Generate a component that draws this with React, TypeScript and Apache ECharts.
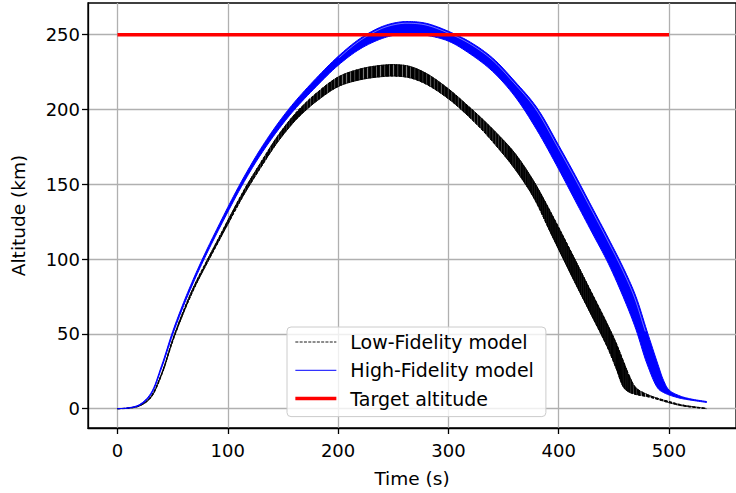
import React, { useEffect, useRef } from 'react';
import * as echarts from 'echarts';

// Low-fidelity trajectory ensemble: time (s) and band edges (km)
const lowTime = [0, 10, 20, 30, 40, 50, 60, 70, 80, 90, 100, 115, 130, 145, 160, 170, 180, 200, 220, 240, 252, 265, 280, 300, 316, 330, 345, 360, 377, 393, 410, 427, 444, 452, 459, 464, 470, 482, 500, 512, 534];
const lowUpper = [0, 0.5, 2.2, 7.9, 23.5, 46.1, 65.8, 82.9, 97.5, 111.6, 125.8, 146.5, 164.7, 182, 196.3, 204, 210.7, 221.7, 227.1, 229.6, 230, 228.8, 224.1, 213.8, 203.6, 194.2, 183.2, 171, 152.5, 131, 106.7, 81.7, 56.7, 44, 31, 22, 14, 9, 4.8, 2.5, 0.2];
const lowLower = [0, 0.3, 1.8, 7.1, 22.5, 44.9, 64.2, 81.1, 95.5, 109.4, 123.2, 143.5, 161.3, 178, 191.7, 199, 205.3, 215.3, 219.9, 222, 222.3, 221.2, 216.9, 207.2, 197, 186.8, 174.3, 160.5, 141.5, 117, 91.3, 66.3, 41.3, 27, 14, 11, 9.5, 7.8, 4, 1.9, 0];

// High-fidelity trajectory ensemble
const hiTime = [0, 10, 20, 30, 40, 50, 60, 70, 80, 90, 100, 110, 120, 130, 145, 160, 180, 200, 220, 240, 255, 265, 280, 300, 320, 340, 360, 380, 400, 415, 430, 445, 460, 470, 480, 490, 495, 500, 510, 520, 534];
const hiUpper = [0, 0.6, 2.8, 10, 28.8, 51.5, 71.1, 88.7, 104.8, 119.9, 134.6, 148.7, 161.8, 174, 190.3, 204.5, 220.8, 235.5, 247.5, 255.5, 258.4, 258.8, 257.6, 252.3, 245, 234.5, 219, 201.5, 176, 156, 135, 114, 92, 75, 52, 29.5, 19, 12.5, 8.5, 6.5, 4.8];
const hiLower = [0, 0.4, 2.2, 9, 27.2, 49.5, 68.9, 86.3, 102.2, 117.1, 131.4, 145.3, 158.2, 170, 185.7, 199.5, 215.2, 229.5, 240.5, 247.5, 250.2, 250.6, 249.6, 245.7, 237, 225.5, 209, 186.5, 160, 139, 118, 97, 72, 53, 30, 13.5, 10.8, 9.2, 7, 5.7, 4.2];

// Target altitude
const targetTime = [0, 500];
const targetAlt = [250, 250];

// Axes
const xTicks = [0, 100, 200, 300, 400, 500];
const yTicks = [0, 50, 100, 150, 200, 250];
const xRange = [-26.7, 560.7];
const yRange = [-12.9, 271.2];

const LOW = 'Low-Fidelity model';
const HIGH = 'High-Fidelity model';
const TARGET = 'Target altitude';

const pairs = (t: number[], h: number[]) => t.map((v, i) => [v, h[i]]);

const SUB = 8;

// centripetal Catmull-Rom through pixel points (rendering only)
const smoothPts = (pts: number[][], n = SUB) => {
  const out: number[][] = [];
  const L = pts.length;
  const get = (i: number) => {
    if (i < 0) return [2 * pts[0][0] - pts[1][0], 2 * pts[0][1] - pts[1][1]];
    if (i >= L) return [2 * pts[L - 1][0] - pts[L - 2][0], 2 * pts[L - 1][1] - pts[L - 2][1]];
    return pts[i];
  };
  const d = (a: number[], b: number[]) => Math.max(Math.pow(Math.hypot(b[0] - a[0], b[1] - a[1]), 0.5), 1e-3);
  for (let i = 0; i < L - 1; i++) {
    const p0 = get(i - 1), p1 = get(i), p2 = get(i + 1), p3 = get(i + 2);
    const t0 = 0, t1 = t0 + d(p0, p1), t2 = t1 + d(p1, p2), t3 = t2 + d(p2, p3);
    for (let k = 0; k < n; k++) {
      const t = t1 + ((t2 - t1) * k) / n;
      const lerp = (a: number[], b: number[], ta: number, tb: number) => {
        const w = (t - ta) / (tb - ta);
        return [a[0] + (b[0] - a[0]) * w, a[1] + (b[1] - a[1]) * w];
      };
      const A1 = lerp(p0, p1, t0, t1), A2 = lerp(p1, p2, t1, t2), A3 = lerp(p2, p3, t2, t3);
      const B1 = lerp(A1, A2, t0, t2), B2 = lerp(A2, A3, t1, t3);
      out.push(lerp(B1, B2, t1, t2));
    }
  }
  out.push(pts[L - 1]);
  return out;
};

// offset a polyline along its normal (rendering only)
const offsetPts = (pts: number[][], dist: number) =>
  pts.map((p, i) => {
    const a = pts[Math.max(0, i - 1)];
    const b = pts[Math.min(pts.length - 1, i + 1)];
    const dx = b[0] - a[0];
    const dy = b[1] - a[1];
    const len = Math.hypot(dx, dy) || 1;
    return [p[0] - (dy / len) * dist, p[1] + (dx / len) * dist];
  });

export default function App() {
  const ref = useRef<HTMLDivElement>(null);

  useEffect(() => {
    if (!ref.current) return;
    const chart = echarts.init(ref.current, undefined, { renderer: 'svg' });
    const font = 'DejaVu Sans';

    const lowBand = (_params: any, api: any) => {
      const up = smoothPts(lowTime.map((t, i) => api.coord([t, lowUpper[i]])));
      const lo = smoothPts(lowTime.map((t, i) => api.coord([t, lowLower[i]])));
      const mid = up.map((p, i) => [(p[0] + lo[i][0]) / 2, (p[1] + lo[i][1]) / 2]);
      const cum = [0];
      for (let i = 1; i < mid.length; i++) {
        cum.push(cum[i - 1] + Math.hypot(mid[i][0] - mid[i - 1][0], mid[i][1] - mid[i - 1][1]));
      }
      const total = cum[cum.length - 1];
      const idxAt = (s: number) => {
        let i = 0;
        while (i < cum.length - 2 && cum[i + 1] < s) i++;
        return i;
      };
      const at = (edge: number[][], s: number) => {
        const i = idxAt(s);
        const len = cum[i + 1] - cum[i];
        const f = len > 0 ? (s - cum[i]) / len : 0;
        return [edge[i][0] + (edge[i + 1][0] - edge[i][0]) * f, edge[i][1] + (edge[i + 1][1] - edge[i][1]) * f];
      };
      const children: any[] = [];
      const dash = 2.9;
      let a = 0;
      while (a < total) {
        const b = Math.min(a + dash, total);
        const top = [at(up, a)];
        const bot = [at(lo, a)];
        for (let j = 0; j < cum.length; j++) {
          if (cum[j] > a && cum[j] < b) {
            top.push(up[j]);
            bot.push(lo[j]);
          }
        }
        top.push(at(up, b));
        bot.push(at(lo, b));
        children.push({
          type: 'polygon',
          shape: { points: top.concat(bot.slice().reverse()) },
          style: { fill: '#000', stroke: '#000', lineWidth: 1 },
        });
        const i = idxAt(b);
        const thick = Math.hypot(up[i][0] - lo[i][0], up[i][1] - lo[i][1]);
        const gap = thick > 6 ? 1.45 : 1.85;
        a = b + gap;
      }
      children.push({
        type: 'polyline',
        shape: { points: up },
        style: { fill: null, stroke: '#000', lineWidth: 0.8, lineDash: [3, 1.3] },
      });
      children.push({
        type: 'polyline',
        shape: { points: lo },
        style: { fill: null, stroke: '#000', lineWidth: 0.8, lineDash: [3, 1.3] },
      });
      return { type: 'group', children };
    };

    const hiBand = (_params: any, api: any) => {
      const up = smoothPts(hiTime.map((t, i) => api.coord([t, hiUpper[i]])));
      const lo = smoothPts(hiTime.map((t, i) => api.coord([t, hiLower[i]])));
      const i0 = hiTime.indexOf(200) * SUB;
      const i1 = hiTime.indexOf(480) * SUB;
      const inner = offsetPts(up, 1.7).slice(i0, i1 + 1);
      return {
        type: 'group',
        children: [
          {
            type: 'polygon',
            shape: { points: up.concat(lo.slice().reverse()) },
            style: { fill: '#0000ff', stroke: '#0000ff', lineWidth: 1 },
          },
          {
            type: 'polyline',
            shape: { points: inner },
            style: { fill: null, stroke: '#ffffff', lineWidth: 0.6, opacity: 0.75 },
          },
        ],
      };
    };

    chart.setOption({
      animation: false,
      backgroundColor: '#ffffff',
      textStyle: { fontFamily: font },
      grid: {
        left: 88,
        top: 3,
        width: 656,
        height: 425.5,
        show: true,
        borderColor: '#000',
        borderWidth: 1.3,
        backgroundColor: 'transparent',
      },
      xAxis: {
        type: 'value',
        min: xRange[0],
        max: xRange[1],
        name: 'Time (s)',
        nameLocation: 'middle',
        nameGap: 41,
        nameTextStyle: { color: '#000', fontSize: 18.5, fontFamily: font },
        axisLine: { show: true, onZero: false, lineStyle: { color: '#000', width: 1.3 } },
        axisTick: { show: true, length: 6, customValues: xTicks, lineStyle: { color: '#000', width: 1.3 } },
        axisLabel: { customValues: xTicks, color: '#000', fontSize: 18, fontFamily: font, margin: 13 },
        splitLine: { show: true, lineStyle: { color: '#b0b0b0', width: 1.3 } },
      },
      yAxis: {
        type: 'value',
        min: yRange[0],
        max: yRange[1],
        name: 'Altitude (km)',
        nameLocation: 'middle',
        nameGap: 60,
        nameTextStyle: { color: '#000', fontSize: 18.5, fontFamily: font },
        axisLine: { show: true, onZero: false, lineStyle: { color: '#000', width: 1.3 } },
        axisTick: { show: true, length: 6, customValues: yTicks, lineStyle: { color: '#000', width: 1.3 } },
        axisLabel: { customValues: yTicks, color: '#000', fontSize: 18, fontFamily: font, margin: 8 },
        splitLine: { show: true, lineStyle: { color: '#b0b0b0', width: 1.3 } },
      },
      legend: {
        orient: 'vertical',
        left: 287,
        top: 327,
        data: [
          { name: LOW, lineStyle: { width: 0.9 } },
          { name: HIGH, lineStyle: { width: 1 } },
          { name: TARGET, lineStyle: { width: 3.5 } },
        ],
        itemWidth: 41,
        itemHeight: 14,
        itemGap: 8.3,
        padding: [5, 12, 8, 6.6],
        backgroundColor: 'rgba(255,255,255,0.8)',
        borderColor: '#cccccc',
        borderWidth: 1,
        borderRadius: 4,
        selectedMode: false,
        itemStyle: { opacity: 0 },
        textStyle: { color: '#000', fontSize: 19, fontFamily: font, lineHeight: 20, padding: [0, 0, 0, 9] },
      },
      series: [
        {
          type: 'custom',
          coordinateSystem: 'cartesian2d',
          renderItem: lowBand,
          data: [[0, 0]],
          silent: true,
          z: 2,
        },
        {
          type: 'line',
          name: LOW,
          data: [],
          symbol: 'none',
          color: '#000',
          lineStyle: { color: '#000', width: 0.9, type: [3, 1.3] },
        },
        {
          type: 'custom',
          coordinateSystem: 'cartesian2d',
          renderItem: hiBand,
          data: [[0, 0]],
          silent: true,
          z: 3,
        },
        {
          type: 'line',
          name: HIGH,
          data: [],
          symbol: 'none',
          color: '#0000ff',
          lineStyle: { color: '#0000ff', width: 1 },
        },
        {
          type: 'line',
          name: TARGET,
          data: pairs(targetTime, targetAlt),
          symbol: 'none',
          color: '#ff0000',
          lineStyle: { color: '#ff0000', width: 3.5 },
          z: 4,
        },
      ],
    });

    return () => chart.dispose();
  }, []);

  return (
    <div
      ref={ref}
      style={{ position: 'fixed', left: 0, top: 0, width: 736, height: 493, background: '#fff' }}
    />
  );
}
